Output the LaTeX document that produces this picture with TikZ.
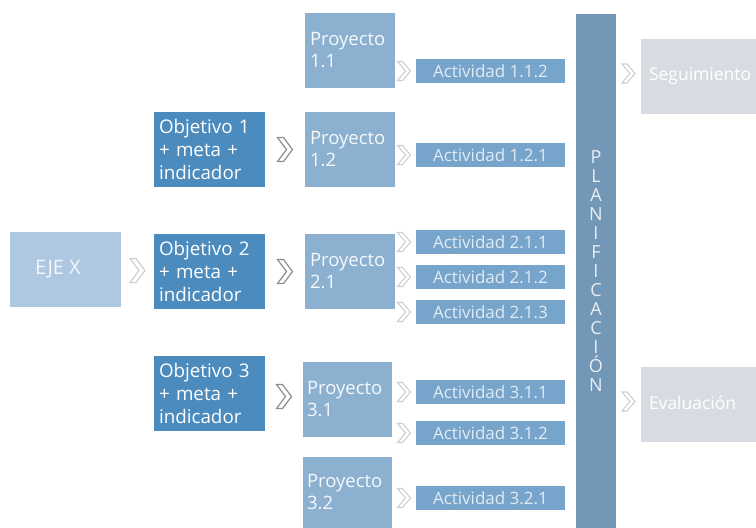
\documentclass[tikz,border=0pt]{standalone}
\usepackage{fontspec}
\setmainfont{Open Sans}
\usetikzlibrary{calc}
\definecolor{ejeC}{HTML}{ADC8E0}
\definecolor{objC}{HTML}{4B8BBE}
\definecolor{projC}{HTML}{8BB0D0}
\definecolor{actC}{HTML}{77A4CB}
\definecolor{planC}{HTML}{7397B6}
\definecolor{greyC}{HTML}{D7DCE2}
\definecolor{chevLight}{HTML}{CFCFCF}
\definecolor{chevDark}{HTML}{8E8E8E}
\tikzset{
  box/.style={anchor=north west, inner sep=0pt, outer sep=0pt},
  ejebox/.style={box, fill=ejeC, minimum width=111pt, minimum height=75pt,
    text=white!85!ejeC, font=\fontsize{20}{22}\selectfont},
  objbox/.style={box, fill=objC, text width=101pt, inner xsep=5pt, minimum height=75pt,
    align=left, text=white, font=\fontsize{18.8}{23}\selectfont},
  projbox/.style={box, fill=projC, text width=80pt, inner xsep=5pt, minimum height=75pt,
    align=left, text=white!92!projC, font=\fontsize{18.5}{22}\selectfont},
  actbox/.style={box, fill=actC, minimum width=149pt, minimum height=24pt,
    text=white!78!actC, font=\fontsize{17}{18}\selectfont},
  planbox/.style={box, fill=planC, minimum width=40pt, minimum height=514pt,
    align=center, text=white!85!planC, font=\fontsize{18}{19}\selectfont},
  greybox/.style={box, fill=greyC, text width=99pt, inner xsep=8pt, minimum height=75pt,
    align=left, text=white, font=\fontsize{17.5}{20}\selectfont},
  pics/chevbig/.style={code={
    \draw[line width=1.2pt, line join=miter, #1]
      (-7.5,-12) -- (-1.5,-12) -- (7.5,0) -- (-1.5,12) -- (-7.5,12) -- (1.5,0) -- cycle;}},
  pics/chevsmall/.style={code={
    \draw[line width=1.1pt, line join=miter, chevLight]
      (-6.5,-9.5) -- (-1.5,-9.5) -- (6.5,0) -- (-1.5,9.5) -- (-6.5,9.5) -- (1.5,0) -- cycle;}},
}
\begin{document}
\begin{tikzpicture}[x=1pt, y=-1pt]
\useasboundingbox (0,0) rectangle (756,528);

% main axis
\node[ejebox] (eje) at (10,232) {\hspace*{-15pt}EJE X};

% objectives
\node[objbox] (o1) at (154,112) {Objetivo 1\\+ meta +\\indicador};
\node[objbox] (o2) at (154,234) {Objetivo 2\\+ meta +\\indicador};
\node[objbox] (o3) at (154,356) {Objetivo 3\\+ meta +\\indicador};

% projects
\node[projbox] (p11) at (305,13)  {Proyecto\\1.1};
\node[projbox] (p12) at (305,112) {Proyecto\\1.2};
\node[projbox] (p21) at (305,234) {Proyecto\\2.1};
\node[projbox, text width=81pt, inner xsep=4pt] (p31) at (303,362) {Proyecto\\3.1};
\node[projbox, text width=81pt, inner xsep=4pt, minimum height=71pt] (p32) at (303,457) {Proyecto\\3.2};

% activities
\node[actbox] (a112) at (416,59)  {Actividad 1.1.2};
\node[actbox] (a121) at (416,143) {Actividad 1.2.1};
\node[actbox] (a211) at (416,230) {Actividad 2.1.1};
\node[actbox] (a212) at (416,265) {Actividad 2.1.2};
\node[actbox] (a213) at (416,300) {Actividad 2.1.3};
\node[actbox] (a311) at (416,380) {Actividad 3.1.1};
\node[actbox] (a312) at (416,421) {Actividad 3.1.2};
\node[actbox] (a321) at (416,486) {Actividad 3.2.1};

% planning bar
\node[planbox] (plan) at (576,14)
  {P\\L\\A\\N\\I\\F\\I\\C\\A\\C\\I\\Ó\\N};

% follow-up boxes
\node[greybox] (seg) at (641,39)  {Seguimiento};
\node[greybox] (eva) at (641,367) {\raisebox{3pt}{Evaluación}};

% chevron connectors
\path ($(eje.east)!0.5!(o2.west)$) pic {chevbig=chevLight};
\path ($(o1.east)!0.5!(p12.west)$) pic {chevbig=chevDark};
\path ($(o2.east)!0.5!(p21.west)$) pic {chevbig=chevDark};
\path ($(o3.east)!0.5!(p31.west)$) pic {chevbig=chevDark};

\foreach \a in {a112,a121,a211,a212,a213,a311,a312,a321}
  \path ($(\a.west)+(-12,0)$) pic {chevsmall};

\path ($(plan.east |- seg.west)!0.5!(seg.west)+(0,-3)$) pic {chevsmall};
\path ($(plan.east |- eva.west)!0.5!(eva.west)+(0,-3)$) pic {chevsmall};
\end{tikzpicture}
\end{document}
